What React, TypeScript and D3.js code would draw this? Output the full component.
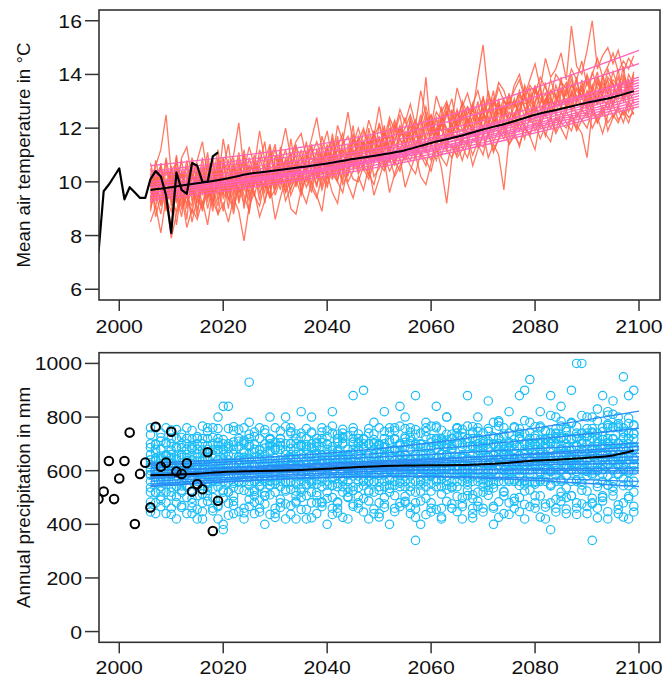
import React from 'react';
import * as d3 from 'd3';

// observed station record
const obsYears = d3.range(1996, 2020);
const obsTemp = [7.35, 9.65, 9.9, 10.2, 10.5, 9.35, 9.8, 9.6, 9.4, 9.4, 10.1, 10.4, 10.2, 9.5, 8.1, 10.35, 9.7, 9.55, 10.7, 10.6, 10.0, 10.0, 10.95, 11.1];
const obsPrecip = [494, 522, 636, 494, 571, 636, 742, 401, 588, 630, 463, 764, 615, 630, 745, 597, 588, 628, 522, 550, 531, 669, 375, 488];

// scenario years (one value per year from 2006)
const scenYears = d3.range(2006, 2100);

// annual temperature, ensemble members
const tempMembers = [
  [9.2, 10.4, 9.6, 10.8, 9.1, 10.2, 9.9, 8.6, 10.5, 9.7, 10.9, 9.4, 10.1, 11.2, 9.5, 10.6, 9.8, 10.9, 9.0, 10.3, 11.0, 10.1, 9.6, 10.8, 11.4, 9.9, 10.5, 11.1, 9.8, 10.7, 11.5, 10.2, 10.9, 9.8, 11.3, 10.6, 11.7, 10.4, 11.0, 12.1, 10.5, 11.4, 10.8, 11.9, 10.7, 11.2, 12.3, 10.9, 11.6, 11.1, 12.4, 11.0, 11.8, 12.6, 11.3, 12.0, 11.5, 12.9, 11.7, 12.2, 11.4, 12.8, 12.1, 11.6, 13.2, 12.3, 11.8, 12.9, 12.4, 13.3, 12.0, 12.7, 13.5, 12.2, 12.9, 13.6, 12.4, 13.1, 12.8, 13.9, 12.6, 13.4, 12.9, 13.8, 12.7, 13.5, 14.1, 12.9, 13.6, 13.2, 14.2, 13.0, 13.7, 13.4],
  [10.1, 9.0, 10.7, 9.5, 8.3, 10.0, 10.8, 9.4, 9.1, 10.6, 9.6, 10.8, 9.2, 10.4, 10.9, 9.3, 10.1, 9.7, 11.2, 9.8, 10.4, 9.3, 10.9, 10.2, 9.7, 11.3, 10.0, 10.6, 11.0, 9.6, 10.8, 11.4, 10.1, 11.0, 10.3, 11.8, 10.7, 11.2, 10.2, 11.6, 11.3, 10.4, 12.0, 11.1, 11.7, 10.6, 11.5, 12.2, 11.0, 11.9, 11.2, 12.1, 10.9, 11.8, 12.5, 11.4, 12.3, 11.1, 12.7, 11.9, 12.5, 11.6, 12.2, 13.0, 11.9, 12.6, 13.4, 12.0, 12.8, 12.2, 13.1, 12.5, 12.1, 13.3, 12.6, 12.9, 13.7, 12.3, 13.2, 12.7, 13.5, 12.9, 13.8, 13.1, 12.8, 13.6, 13.0, 14.0, 13.3, 12.9, 13.4, 14.3, 13.1, 13.8],
  [9.8, 10.6, 11.2, 12.5, 10.3, 9.6, 10.9, 11.3, 10.1, 10.8, 11.5, 10.2, 10.7, 9.9, 11.6, 10.5, 11.0, 12.2, 10.4, 11.3, 10.6, 11.9, 10.8, 11.4, 10.2, 11.1, 12.0, 10.9, 11.5, 11.8, 10.9, 11.6, 12.4, 11.2, 11.9, 10.8, 12.1, 11.5, 12.6, 11.4, 12.0, 11.3, 12.3, 11.7, 12.8, 11.6, 12.4, 11.9, 12.7, 12.2, 12.9, 12.1, 13.4, 12.5, 12.0, 13.2, 12.6, 13.0, 12.3, 13.5, 12.8, 13.3, 12.6, 13.9, 15.1, 13.2, 12.9, 13.7, 13.4, 12.8, 13.6, 14.0, 13.2, 13.8, 14.4, 13.5, 14.6, 13.9, 14.2, 14.8, 13.8, 15.8, 14.3, 14.0, 14.9, 16.0, 14.2, 14.7, 15.0, 14.4, 14.9, 14.1, 14.6, 14.3],
  [8.5, 9.1, 8.1, 9.4, 7.9, 8.8, 9.5, 8.3, 9.0, 8.6, 9.3, 8.4, 9.7, 8.8, 9.2, 8.5, 9.4, 8.9, 7.8, 9.1, 9.6, 8.7, 9.3, 9.9, 8.6, 9.4, 10.1, 9.0, 8.8, 9.7, 9.2, 10.0, 9.5, 8.9, 10.3, 9.6, 9.2, 10.4, 9.9, 9.4, 10.2, 9.7, 10.6, 9.5, 10.1, 10.8, 9.6, 10.3, 10.9, 9.8, 10.4, 11.0, 10.2, 9.9, 10.7, 11.3, 10.5, 9.2, 10.9, 11.4, 10.8, 11.5, 10.6, 11.2, 11.8, 10.9, 11.4, 11.0, 9.7, 11.6, 11.9, 11.3, 12.1, 11.7, 11.2, 12.3, 11.8, 11.5, 12.4, 12.0, 11.6, 12.5, 12.1, 11.8, 10.9, 12.6, 12.2, 12.8, 11.9, 12.4, 12.7, 12.2, 12.9, 12.5],
  [9.9, 9.3, 10.3, 9.0, 10.6, 9.5, 8.7, 10.2, 9.8, 9.2, 10.3, 9.9, 8.9, 10.5, 9.7, 10.1, 9.4, 10.7, 10.0, 9.6, 10.8, 10.2, 9.8, 11.1, 10.4, 9.7, 10.9, 10.3, 11.4, 10.1, 10.6, 9.9, 11.2, 10.8, 10.1, 11.5, 10.9, 10.4, 11.1, 10.7, 11.4, 10.9, 10.6, 11.8, 11.2, 12.1, 10.8, 11.3, 11.7, 12.4, 11.5, 11.9, 12.3, 11.6, 12.1, 11.2, 12.4, 12.0, 11.7, 12.6, 12.2, 11.8, 12.9, 12.4, 12.0, 12.7, 12.3, 13.1, 11.9, 12.6, 12.4, 13.2, 12.8, 12.3, 13.4, 12.9, 13.3, 12.7, 13.6, 13.0, 13.1, 12.7, 13.5, 13.2, 14.0, 13.4, 12.9, 13.7, 13.3, 14.1, 13.5, 13.2, 14.0, 13.6],
  [10.5, 9.7, 9.2, 10.1, 9.6, 11.0, 9.4, 9.9, 10.7, 8.9, 10.0, 11.1, 9.6, 9.9, 10.5, 11.4, 9.9, 10.3, 10.8, 9.4, 10.1, 10.7, 11.5, 9.9, 10.6, 10.3, 9.8, 11.6, 10.5, 10.9, 10.3, 11.2, 10.6, 11.7, 10.9, 10.4, 11.3, 11.8, 10.6, 11.2, 10.8, 11.9, 11.3, 10.7, 12.2, 11.5, 11.1, 11.8, 12.5, 11.3, 11.8, 11.3, 12.0, 13.9, 11.7, 12.3, 11.9, 12.5, 13.1, 12.0, 11.9, 12.4, 11.8, 12.6, 12.3, 13.4, 12.5, 12.2, 13.0, 12.7, 13.0, 12.4, 13.6, 13.1, 12.6, 13.3, 12.9, 13.8, 13.2, 12.8, 13.4, 14.0, 13.0, 13.5, 13.9, 12.8, 13.7, 13.3, 14.2, 13.6, 13.2, 13.9, 13.4, 14.1],
  [9.4, 10.0, 9.9, 8.9, 10.2, 9.3, 10.4, 9.6, 8.8, 10.1, 9.1, 10.2, 10.5, 9.3, 10.0, 9.6, 10.9, 9.2, 10.1, 10.6, 9.5, 10.3, 10.0, 9.4, 10.9, 10.5, 9.6, 10.1, 10.7, 10.2, 10.0, 10.5, 9.8, 10.9, 11.0, 10.2, 10.8, 10.0, 11.4, 10.5, 10.9, 11.5, 10.2, 11.2, 10.8, 11.4, 11.7, 10.7, 11.2, 10.9, 11.6, 12.0, 11.4, 11.1, 11.9, 12.4, 11.3, 11.8, 12.2, 11.1, 11.7, 12.3, 11.9, 11.5, 12.5, 12.1, 12.7, 11.8, 12.2, 11.7, 12.6, 11.9, 12.5, 12.9, 12.3, 12.0, 12.8, 13.2, 12.6, 12.2, 12.9, 13.3, 12.4, 12.8, 13.2, 12.6, 13.4, 12.5, 13.0, 13.7, 12.8, 13.3, 12.6, 13.1],
  [9.0, 9.8, 10.5, 9.7, 9.3, 10.9, 9.1, 10.0, 9.5, 10.3, 9.8, 9.3, 10.4, 10.0, 8.9, 10.2, 10.5, 9.6, 9.9, 10.9, 10.2, 9.8, 10.4, 10.6, 9.9, 10.8, 10.2, 9.7, 10.4, 11.2, 10.4, 10.7, 11.1, 10.3, 10.6, 11.3, 10.5, 11.0, 10.7, 11.8, 11.1, 10.6, 11.5, 11.0, 11.6, 11.0, 12.0, 11.4, 11.2, 11.7, 12.1, 11.4, 11.7, 12.2, 11.5, 11.9, 12.8, 11.6, 12.4, 12.1, 12.6, 12.0, 12.4, 12.1, 12.8, 11.7, 12.4, 12.9, 12.6, 12.3, 12.8, 13.4, 12.7, 12.4, 13.0, 13.5, 12.5, 13.0, 12.9, 13.4, 12.8, 13.2, 13.9, 12.6, 13.3, 13.0, 13.8, 13.2, 12.7, 13.3, 13.9, 13.0, 13.5, 12.9],
  [10.2, 8.7, 9.5, 10.4, 10.0, 8.4, 9.7, 10.6, 9.3, 9.8, 8.9, 10.0, 9.8, 9.1, 10.7, 9.9, 8.8, 10.2, 9.5, 8.9, 10.0, 10.6, 9.2, 10.4, 9.8, 10.2, 10.7, 9.5, 10.0, 10.4, 9.8, 10.3, 10.5, 9.7, 10.4, 10.1, 10.6, 9.9, 10.3, 10.9, 10.3, 10.7, 11.2, 10.2, 10.5, 11.0, 10.4, 10.8, 10.4, 11.1, 10.8, 11.3, 11.0, 10.6, 11.4, 10.8, 11.6, 11.2, 10.9, 11.7, 11.3, 10.9, 11.6, 11.4, 11.0, 11.9, 11.2, 11.6, 12.2, 11.4, 11.8, 12.2, 11.6, 12.5, 11.9, 12.3, 11.7, 12.4, 11.9, 12.6, 12.2, 11.9, 12.6, 12.3, 12.0, 12.7, 12.4, 11.8, 12.5, 12.9, 12.3, 12.6, 12.2, 12.8],
  [9.6, 10.2, 9.1, 9.9, 10.5, 9.7, 9.0, 9.5, 10.3, 9.4, 10.6, 9.5, 10.0, 10.7, 9.4, 9.8, 10.6, 10.1, 9.7, 10.4, 9.8, 11.2, 10.5, 9.8, 10.2, 10.9, 10.4, 10.8, 9.9, 10.6, 11.1, 10.4, 10.2, 11.3, 10.7, 11.0, 10.3, 11.2, 10.8, 10.6, 11.7, 11.2, 10.9, 11.5, 10.6, 11.8, 11.2, 11.6, 12.0, 11.4, 11.9, 12.3, 11.6, 12.0, 12.3, 11.7, 12.1, 12.6, 11.8, 12.3, 12.9, 12.2, 12.7, 12.3, 12.6, 12.2, 13.0, 12.5, 12.8, 12.1, 12.5, 12.9, 13.1, 12.6, 12.8, 12.5, 13.1, 12.6, 13.0, 13.5, 12.9, 13.6, 13.2, 12.7, 13.4, 13.1, 12.9, 13.3, 13.8, 12.9, 13.4, 13.7, 13.0, 13.3],
  [8.9, 10.0, 9.3, 10.9, 9.8, 9.2, 10.4, 9.0, 10.1, 10.7, 9.5, 10.3, 9.1, 10.8, 10.2, 9.0, 10.6, 9.3, 10.5, 8.8, 10.7, 9.9, 10.3, 9.5, 11.0, 10.4, 9.6, 10.9, 10.2, 9.9, 11.0, 10.5, 9.9, 10.6, 11.4, 10.3, 10.0, 11.6, 10.5, 11.1, 10.4, 11.2, 11.7, 10.9, 11.0, 11.9, 11.3, 10.6, 12.0, 11.5, 11.1, 11.7, 12.5, 11.3, 11.9, 11.6, 12.2, 11.4, 12.0, 12.7, 11.9, 12.1, 12.8, 11.8, 12.4, 13.0, 12.2, 12.6, 13.1, 12.4, 12.2, 13.0, 12.4, 13.5, 12.8, 12.3, 13.1, 12.9, 12.5, 13.3, 13.7, 12.6, 13.0, 13.6, 12.5, 13.3, 13.1, 13.9, 13.2, 12.8, 13.6, 13.1, 13.8, 13.4],
  [10.3, 9.5, 10.0, 9.2, 10.4, 10.7, 9.8, 10.8, 9.6, 10.4, 10.1, 9.7, 10.9, 9.5, 10.3, 10.8, 9.6, 10.0, 11.0, 10.2, 9.9, 10.5, 10.1, 11.3, 9.9, 10.6, 11.2, 10.2, 10.7, 10.0, 10.9, 11.3, 10.4, 11.1, 10.5, 10.9, 11.5, 10.6, 10.9, 11.3, 11.6, 10.8, 11.3, 11.9, 10.9, 11.4, 11.0, 12.1, 11.6, 11.2, 12.3, 11.8, 11.3, 12.4, 12.0, 11.8, 12.5, 11.9, 12.1, 11.8, 12.7, 12.3, 11.9, 12.7, 13.1, 12.4, 12.1, 12.9, 12.3, 13.0, 12.9, 12.6, 13.2, 12.9, 13.6, 12.7, 13.0, 13.4, 13.1, 12.9, 13.3, 13.8, 13.1, 13.4, 13.0, 14.1, 13.5, 13.2, 13.9, 13.6, 13.1, 13.8, 13.3, 14.0],
  [9.3, 10.8, 9.9, 9.4, 8.9, 10.1, 9.5, 9.2, 9.9, 8.7, 10.2, 9.0, 9.9, 10.3, 9.6, 10.0, 9.1, 10.4, 9.8, 9.3, 10.3, 9.6, 10.0, 10.5, 9.5, 10.1, 10.3, 9.9, 10.5, 9.7, 10.2, 9.6, 10.7, 10.4, 9.9, 10.8, 10.1, 10.7, 10.0, 10.4, 11.0, 10.5, 10.1, 10.7, 11.3, 10.5, 11.0, 10.7, 11.1, 10.8, 11.3, 10.9, 11.5, 11.2, 10.8, 11.6, 11.0, 11.5, 11.3, 11.0, 11.6, 11.4, 12.0, 11.3, 11.7, 12.2, 11.5, 11.9, 11.6, 12.3, 11.9, 12.4, 12.0, 11.7, 12.5, 12.1, 12.6, 12.0, 12.4, 12.2, 12.6, 12.3, 12.0, 12.7, 12.4, 12.9, 12.2, 12.6, 13.0, 12.4, 12.8, 12.5, 13.0, 12.7],
  [10.7, 9.9, 10.6, 9.6, 9.9, 10.5, 10.2, 9.7, 10.9, 10.0, 10.4, 10.6, 9.7, 10.9, 10.0, 10.5, 10.2, 11.1, 9.9, 10.6, 10.4, 10.9, 10.3, 10.7, 11.2, 10.5, 10.8, 10.3, 11.3, 10.9, 10.5, 11.0, 11.5, 10.8, 11.2, 11.6, 10.9, 11.4, 11.7, 11.0, 11.5, 12.0, 11.4, 11.7, 12.1, 11.3, 11.8, 12.3, 11.7, 12.0, 12.5, 11.9, 12.2, 12.8, 12.0, 12.6, 12.3, 12.9, 12.5, 12.2, 13.0, 12.5, 12.9, 13.4, 12.6, 13.1, 12.8, 13.5, 13.0, 12.9, 13.4, 13.8, 13.1, 13.6, 13.3, 13.9, 13.5, 13.2, 14.0, 13.7, 13.5, 14.2, 13.8, 14.5, 13.6, 14.0, 14.6, 13.9, 14.3, 14.8, 14.1, 14.5, 14.2, 14.7],
  [9.1, 9.6, 8.8, 10.0, 9.4, 8.9, 9.9, 9.7, 8.5, 9.4, 9.0, 9.7, 9.3, 8.8, 9.9, 9.4, 9.0, 9.8, 9.2, 10.0, 9.5, 9.1, 10.0, 9.4, 9.7, 10.2, 9.3, 9.8, 10.1, 9.5, 10.3, 9.8, 9.4, 10.2, 9.8, 10.5, 10.0, 9.6, 10.6, 10.1, 10.0, 10.6, 10.3, 9.9, 10.7, 10.4, 10.9, 10.2, 10.6, 11.0, 10.6, 10.3, 11.1, 10.8, 10.4, 11.2, 10.9, 10.6, 11.4, 10.9, 11.2, 11.6, 11.0, 11.5, 11.3, 11.8, 11.1, 11.6, 11.9, 11.4, 11.7, 11.4, 12.0, 11.8, 12.2, 11.6, 12.1, 12.4, 11.8, 12.2, 12.0, 12.5, 11.9, 12.3, 12.6, 12.0, 12.4, 12.8, 12.2, 12.5, 12.2, 12.7, 12.4, 12.6],
  [9.7, 10.1, 10.6, 9.3, 9.5, 10.3, 10.0, 10.3, 9.6, 10.2, 9.7, 10.5, 10.3, 9.7, 10.8, 10.3, 9.7, 10.5, 10.3, 9.9, 10.6, 10.0, 10.6, 10.1, 10.5, 11.0, 10.4, 10.0, 10.8, 10.5, 10.7, 10.9, 10.3, 10.8, 11.1, 10.6, 11.2, 10.7, 11.0, 11.5, 11.0, 11.5, 11.1, 11.6, 11.3, 11.8, 11.2, 11.5, 12.1, 11.6, 11.8, 12.2, 11.9, 12.1, 12.5, 11.8, 12.3, 12.6, 12.1, 12.5, 12.3, 12.8, 12.5, 12.2, 12.9, 12.6, 13.1, 12.7, 12.5, 13.2, 12.8, 13.3, 12.9, 13.0, 13.5, 13.1, 12.8, 13.4, 13.2, 13.7, 13.2, 13.6, 13.4, 13.1, 13.7, 13.4, 13.9, 13.5, 13.3, 13.8, 13.6, 14.0, 13.5, 13.9],
];

// smoothed member trends, values at these years
const trendYears = [2006, 2054, 2100];
const tempTrends = [
  [10.6, 12.0, 14.9], [10.4, 11.8, 14.4], [10.3, 11.6, 13.8], [10.2, 11.4, 13.7],
  [10.0, 11.3, 13.5], [9.9, 11.2, 13.4], [9.8, 11.1, 13.3], [9.7, 11.0, 13.2],
  [9.6, 10.95, 13.1], [9.5, 10.9, 13.0], [9.4, 10.8, 12.9], [9.3, 10.7, 12.8],
  [9.6, 11.05, 13.6], [9.8, 11.2, 13.9],
];

// ensemble mean
const meanYears = [2006, 2010, 2015, 2020, 2025, 2030, 2035, 2040, 2045, 2050, 2055, 2060, 2065, 2070, 2075, 2080, 2085, 2090, 2095, 2099];
const tempMean = [9.7, 9.8, 9.95, 10.1, 10.3, 10.42, 10.55, 10.68, 10.85, 11.0, 11.18, 11.45, 11.68, 11.95, 12.2, 12.5, 12.72, 12.95, 13.15, 13.38];
const precipMean = [583, 585, 589, 595, 598, 600, 603, 607, 613, 617, 619, 620, 621, 624, 630, 638, 642, 648, 657, 675];

// annual precipitation, ensemble members
const precipMembers = [
  [640, 520, 710, 580, 460, 690, 610, 540, 750, 590, 530, 680, 620, 470, 840, 600, 560, 710, 650, 930, 580, 490, 660, 720, 550, 610, 800, 530, 640, 690, 570, 740, 620, 480, 680, 590, 710, 650, 520, 760, 630, 560, 700, 610, 480, 720, 660, 590, 840, 620, 540, 690, 610, 760, 580, 650, 720, 530, 680, 600, 740, 620, 510, 690, 650, 580, 780, 620, 690, 560, 700, 640, 900, 590, 680, 620, 750, 550, 690, 720, 610, 780, 1000, 640, 700, 590, 830, 660, 720, 610, 760, 650, 880, 690],
  [560, 680, 490, 630, 720, 540, 600, 680, 520, 650, 700, 580, 450, 640, 380, 690, 620, 530, 760, 580, 650, 720, 590, 510, 680, 620, 560, 740, 600, 520, 690, 610, 550, 720, 640, 500, 670, 590, 730, 620, 560, 700, 640, 520, 680, 610, 570, 750, 600, 660, 710, 520, 640, 600, 690, 560, 620, 800, 590, 650, 580, 690, 720, 600, 540, 710, 630, 560, 680, 740, 620, 560, 700, 650, 730, 590, 660, 380, 720, 640, 700, 620, 560, 740, 660, 690, 600, 730, 640, 810, 590, 700, 640, 560],
  [610, 590, 640, 700, 560, 600, 470, 720, 610, 560, 620, 540, 700, 600, 660, 520, 750, 620, 560, 690, 530, 600, 700, 640, 460, 720, 590, 650, 550, 600, 640, 520, 690, 600, 750, 570, 620, 520, 680, 590, 700, 620, 560, 680, 640, 540, 610, 680, 560, 720, 600, 340, 700, 640, 550, 720, 610, 660, 720, 560, 650, 600, 740, 560, 690, 620, 550, 720, 600, 650, 560, 720, 620, 690, 550, 760, 610, 680, 600, 560, 760, 640, 690, 560, 620, 340, 700, 620, 580, 760, 640, 570, 720, 620],
  [460, 640, 580, 520, 650, 720, 560, 600, 640, 420, 590, 650, 560, 720, 600, 640, 470, 690, 600, 560, 700, 560, 520, 600, 760, 580, 640, 470, 700, 580, 550, 660, 590, 640, 560, 690, 480, 700, 610, 540, 660, 590, 740, 560, 620, 690, 520, 640, 700, 580, 640, 600, 560, 690, 620, 680, 540, 610, 460, 700, 600, 560, 660, 720, 600, 650, 700, 580, 520, 630, 680, 600, 560, 620, 700, 640, 580, 720, 560, 680, 640, 560, 720, 680, 600, 740, 540, 690, 760, 660, 700, 620, 560, 740],
  [700, 620, 560, 480, 600, 640, 700, 500, 580, 700, 640, 600, 760, 560, 620, 580, 660, 560, 640, 520, 620, 680, 640, 560, 610, 680, 530, 600, 620, 740, 600, 560, 640, 690, 520, 620, 660, 560, 600, 680, 580, 640, 620, 700, 560, 650, 600, 560, 620, 690, 680, 620, 590, 540, 640, 600, 700, 580, 640, 620, 560, 640, 600, 660, 580, 620, 560, 680, 640, 600, 640, 690, 600, 560, 660, 620, 700, 650, 610, 680, 580, 680, 620, 660, 740, 600, 660, 560, 700, 600, 660, 740, 600, 680],
  [520, 760, 620, 660, 590, 480, 650, 620, 680, 540, 600, 720, 500, 680, 560, 700, 620, 650, 590, 640, 560, 640, 740, 610, 680, 560, 660, 620, 720, 500, 680, 620, 700, 560, 610, 740, 580, 660, 560, 640, 720, 560, 600, 650, 700, 620, 760, 600, 540, 660, 580, 700, 640, 600, 720, 540, 660, 640, 600, 740, 660, 720, 580, 640, 700, 560, 640, 700, 600, 660, 700, 580, 660, 720, 620, 680, 560, 700, 660, 620, 660, 720, 640, 700, 580, 660, 720, 620, 680, 700, 620, 680, 720, 640],
  [600, 560, 680, 620, 640, 580, 560, 660, 480, 620, 560, 620, 660, 620, 520, 600, 580, 640, 700, 620, 680, 540, 600, 670, 580, 640, 610, 560, 660, 620, 620, 700, 480, 600, 660, 620, 540, 620, 650, 720, 600, 680, 520, 620, 600, 560, 640, 620, 660, 540, 620, 560, 660, 620, 600, 620, 580, 700, 620, 540, 620, 580, 640, 520, 640, 680, 600, 640, 560, 700, 600, 640, 680, 600, 560, 700, 640, 600, 740, 600, 620, 600, 660, 620, 680, 620, 600, 640, 620, 560, 620, 600, 660, 600],
  [660, 440, 600, 760, 520, 620, 580, 440, 600, 680, 480, 560, 620, 420, 700, 520, 680, 600, 460, 720, 600, 460, 560, 700, 520, 480, 640, 700, 480, 660, 720, 480, 620, 540, 700, 460, 640, 720, 500, 600, 480, 620, 700, 440, 760, 500, 660, 460, 700, 480, 760, 480, 620, 560, 480, 760, 460, 660, 540, 760, 500, 620, 460, 760, 520, 700, 460, 620, 760, 480, 760, 500, 620, 780, 480, 560, 720, 480, 800, 520, 500, 720, 480, 600, 800, 480, 740, 500, 820, 540, 800, 480, 740, 520],
  [583, 637, 524, 566, 676, 604, 543, 617, 566, 636, 677, 527, 584, 694, 643, 557, 506, 603, 674, 546, 617, 596, 507, 563, 646, 694, 557, 624, 506, 583, 547, 636, 657, 604, 586, 543, 626, 576, 604, 526, 676, 544, 607, 586, 637, 597, 566, 674, 583, 606, 557, 646, 524, 663, 587, 604, 646, 563, 694, 586, 597, 526, 606, 574, 627, 546, 656, 604, 617, 586, 566, 626, 546, 637, 607, 566, 644, 596, 624, 566, 614, 646, 597, 547, 636, 584, 626, 604, 546, 637, 586, 607, 544, 624],
  [760, 480, 740, 440, 700, 420, 660, 760, 440, 720, 420, 760, 460, 800, 400, 840, 440, 720, 420, 780, 440, 760, 400, 800, 440, 720, 420, 760, 420, 820, 420, 800, 440, 760, 400, 820, 460, 740, 420, 880, 460, 900, 420, 780, 440, 820, 400, 760, 480, 800, 440, 880, 400, 780, 460, 840, 420, 800, 460, 760, 420, 880, 440, 800, 460, 860, 400, 780, 440, 820, 460, 880, 420, 940, 460, 820, 420, 880, 460, 840, 440, 900, 460, 1000, 440, 800, 460, 880, 420, 860, 440, 950, 420, 900],
  [640, 700, 540, 600, 660, 560, 520, 700, 640, 580, 720, 640, 600, 540, 680, 660, 600, 560, 640, 600, 560, 660, 620, 720, 600, 540, 700, 660, 600, 560, 660, 560, 720, 640, 600, 660, 720, 540, 660, 580, 640, 720, 580, 660, 540, 700, 620, 720, 640, 560, 700, 660, 740, 580, 660, 700, 600, 660, 720, 640, 700, 640, 560, 700, 740, 600, 720, 660, 700, 640, 660, 740, 700, 640, 720, 660, 600, 740, 700, 660, 720, 660, 740, 700, 640, 720, 680, 760, 660, 720, 680, 760, 700, 720],
  [537, 604, 646, 656, 506, 643, 597, 586, 694, 507, 636, 584, 677, 606, 576, 626, 696, 583, 614, 664, 506, 616, 684, 546, 637, 604, 676, 587, 646, 697, 604, 683, 566, 657, 626, 576, 704, 637, 586, 664, 597, 566, 656, 647, 694, 584, 676, 546, 657, 646, 614, 736, 607, 634, 684, 596, 566, 714, 667, 604, 646, 594, 686, 636, 566, 654, 627, 694, 664, 597, 626, 656, 604, 697, 646, 596, 684, 637, 584, 694, 686, 604, 646, 714, 597, 676, 644, 586, 706, 636, 704, 646, 594, 686],
  [623, 697, 655, 548, 752, 614, 686, 567, 718, 663, 607, 553, 724, 671, 596, 757, 538, 652, 713, 605, 668, 617, 571, 693, 626, 748, 633, 702, 559, 647, 604, 566, 706, 659, 615, 643, 552, 754, 628, 697, 683, 593, 562, 716, 627, 668, 705, 596, 694, 757, 609, 654, 566, 727, 662, 613, 751, 629, 557, 703, 688, 569, 764, 637, 708, 597, 664, 722, 581, 686, 646, 727, 563, 682, 618, 707, 634, 603, 726, 766, 676, 627, 694, 606, 729, 655, 613, 697, 768, 676, 626, 723, 684, 771],
  [483, 517, 466, 594, 538, 503, 527, 596, 462, 547, 514, 486, 533, 566, 497, 478, 553, 447, 526, 493, 482, 544, 506, 437, 563, 494, 476, 557, 524, 455, 507, 553, 518, 484, 496, 546, 443, 566, 503, 475, 537, 496, 487, 558, 527, 463, 534, 507, 553, 486, 524, 457, 547, 497, 446, 566, 513, 486, 536, 504, 476, 547, 496, 467, 554, 508, 536, 484, 523, 566, 497, 545, 474, 528, 557, 506, 464, 543, 493, 486, 536, 507, 566, 476, 524, 497, 553, 487, 546, 506, 473, 544, 496, 467],
  [734, 667, 604, 706, 586, 753, 724, 637, 686, 607, 766, 694, 646, 757, 716, 683, 764, 637, 707, 736, 727, 644, 753, 676, 706, 627, 764, 683, 737, 694, 757, 687, 646, 744, 697, 766, 676, 726, 636, 707, 737, 686, 757, 704, 663, 746, 714, 677, 766, 706, 744, 753, 697, 686, 766, 714, 707, 736, 684, 757, 726, 766, 694, 747, 676, 757, 726, 786, 737, 706, 764, 717, 787, 744, 697, 766, 714, 806, 736, 784, 746, 776, 727, 806, 757, 744, 786, 716, 807, 764, 776, 746, 796, 767],
  [586, 604, 566, 637, 626, 654, 583, 647, 596, 617, 577, 643, 606, 584, 636, 617, 586, 626, 597, 646, 614, 576, 643, 606, 624, 573, 607, 646, 613, 587, 636, 597, 624, 576, 647, 603, 616, 644, 584, 596, 627, 643, 597, 624, 583, 646, 604, 617, 643, 596, 644, 606, 614, 646, 597, 627, 664, 604, 636, 617, 596, 646, 613, 604, 666, 626, 597, 646, 657, 614, 646, 606, 664, 636, 627, 667, 616, 647, 654, 636, 664, 646, 624, 657, 646, 684, 637, 664, 626, 676, 647, 686, 654, 646],
  [446, 576, 504, 653, 437, 566, 463, 546, 497, 456, 447, 506, 574, 466, 527, 434, 486, 557, 443, 467, 523, 446, 476, 547, 426, 463, 524, 437, 486, 536, 456, 424, 507, 466, 546, 437, 484, 426, 536, 467, 504, 446, 526, 457, 427, 476, 546, 447, 466, 504, 463, 426, 487, 436, 524, 456, 427, 546, 476, 447, 466, 507, 424, 486, 446, 527, 467, 426, 506, 437, 486, 447, 524, 466, 506, 427, 476, 544, 446, 504, 457, 506, 437, 527, 466, 476, 424, 506, 447, 524, 456, 427, 504, 446],
  [686, 646, 724, 566, 627, 684, 736, 607, 656, 727, 664, 746, 626, 706, 677, 624, 707, 754, 666, 697, 744, 676, 627, 716, 686, 704, 617, 746, 684, 726, 697, 744, 664, 706, 727, 676, 736, 704, 657, 746, 706, 717, 666, 737, 697, 686, 744, 716, 676, 727, 724, 697, 686, 746, 706, 766, 714, 687, 736, 726, 754, 704, 744, 676, 716, 747, 697, 766, 726, 684, 717, 756, 737, 706, 764, 717, 746, 704, 756, 726, 754, 716, 764, 737, 726, 757, 706, 746, 774, 717, 766, 724, 776, 736],
];

const precipTrends = [
  [628, 690, 822], [620, 670, 758], [610, 655, 703], [600, 640, 677],
  [590, 630, 665], [585, 625, 652], [580, 615, 640], [570, 610, 628],
  [560, 600, 610], [550, 590, 591], [541, 580, 560], [600, 635, 690],
  [575, 605, 600], [545, 578, 541],
];

const xTicks = [2000, 2020, 2040, 2060, 2080, 2100];
const tempTicks = [6, 8, 10, 12, 14, 16];
const precipTicks = [0, 200, 400, 600, 800, 1000];

const W = 664;
const H = 677;
const FONT = '"Liberation Sans", Arial, Helvetica, sans-serif';
const AXIS = '#333';

const x = d3.scaleLinear().domain([1996.1, 2104.04]).range([99, 660]);
const yT = d3.scaleLinear().domain([5.6, 16.4]).range([300, 10]);
const yP = d3.scaleLinear().domain([-40, 1040]).range([642.3, 352.7]);

// stretched R-style label
const Txt = ({ tx, ty, anchor, children }: any) => (
  <text transform={`translate(${tx},${ty}) scale(1.12,1)`} textAnchor={anchor} fontSize={19} fontFamily={FONT} fill="#111">
    {children}
  </text>
);

const Frame = ({ y, ticks, title, titleLen }: any) => {
  const [y0, y1] = y.range();
  return (
    <g>
      <rect x={99} y={y1} width={561} height={y0 - y1} fill="none" stroke={AXIS} strokeWidth={1.6} />
      {ticks.map((t: number) => (
        <g key={t}>
          <line x1={85} x2={99} y1={y(t)} y2={y(t)} stroke={AXIS} strokeWidth={1.5} />
          <Txt tx={82} ty={y(t) + 7} anchor="end">{t}</Txt>
        </g>
      ))}
      {xTicks.map(t => (
        <g key={t}>
          <line x1={x(t)} x2={x(t)} y1={y0} y2={y0 + 11} stroke={AXIS} strokeWidth={1.5} />
          <Txt tx={x(t)} ty={Math.min(y0 + 32.5, H - 3.5)} anchor="middle">{t}</Txt>
        </g>
      ))}
      <text transform={`translate(30,${(y0 + y1) / 2}) rotate(-90)`} textAnchor="middle" fontSize={19}
        fontFamily={FONT} fill="#111" textLength={titleLen} lengthAdjust="spacingAndGlyphs">{title}</text>
    </g>
  );
};

export default function App() {
  const lineT = d3.line<number>().x((_, i) => x(scenYears[i])).y(d => yT(d));
  const trendT = d3.line<number>().x((_, i) => x(trendYears[i])).y(d => yT(d)).curve(d3.curveMonotoneX);
  const meanT = d3.line<number>().x((_, i) => x(meanYears[i])).y(d => yT(d)).curve(d3.curveMonotoneX);
  const obsT = d3.line<number>().x((_, i) => x(obsYears[i])).y(d => yT(d));
  const trendP = d3.line<number>().x((_, i) => x(trendYears[i])).y(d => yP(d)).curve(d3.curveMonotoneX);
  const meanP = d3.line<number>().x((_, i) => x(meanYears[i])).y(d => yP(d)).curve(d3.curveMonotoneX);

  return (
    <svg width={W} height={H} style={{ position: 'absolute', left: 0, top: 0, background: '#fff' }}>
      <defs>
        <clipPath id="clipT"><rect x={99} y={10} width={561} height={290} /></clipPath>
        <clipPath id="clipP"><rect x={99} y={352.7} width={561} height={289.6} /></clipPath>
      </defs>

      <g clipPath="url(#clipT)">
        {tempMembers.map((m, i) => (
          <path key={i} d={lineT(m) || ''} fill="none" stroke="#ff6247" strokeOpacity={0.85} strokeWidth={1.3} />
        ))}
        {tempTrends.map((m, i) => (
          <path key={i} d={trendT(m) || ''} fill="none" stroke="#ff62b8" strokeWidth={1.3} />
        ))}
        <path d={meanT(tempMean) || ''} fill="none" stroke="#000" strokeWidth={2} />
        <path d={obsT(obsTemp) || ''} fill="none" stroke="#000" strokeWidth={2.2} strokeLinejoin="round" />
      </g>
      <Frame y={yT} ticks={tempTicks} title="Mean air temperature in °C" titleLen={225} />

      <g clipPath="url(#clipP)">
        {precipMembers.map((m, i) => (
          <g key={i}>
            {m.map((v, j) => (
              <circle key={j} cx={x(scenYears[j])} cy={yP(v)} r={4.2} fill="none" stroke="#1cbdf7" strokeWidth={1.2} />
            ))}
          </g>
        ))}
        {precipTrends.map((m, i) => (
          <path key={i} d={trendP(m) || ''} fill="none" stroke="#2b8cf5" strokeWidth={1.4} />
        ))}
        <path d={meanP(precipMean) || ''} fill="none" stroke="#000" strokeWidth={2} />
        {obsPrecip.map((v, i) => (
          <circle key={i} cx={x(obsYears[i])} cy={yP(v)} r={4.3} fill="none" stroke="#000" strokeWidth={2} />
        ))}
      </g>
      <Frame y={yP} ticks={precipTicks} title="Annual precipitation in mm" titleLen={221} />
    </svg>
  );
}
